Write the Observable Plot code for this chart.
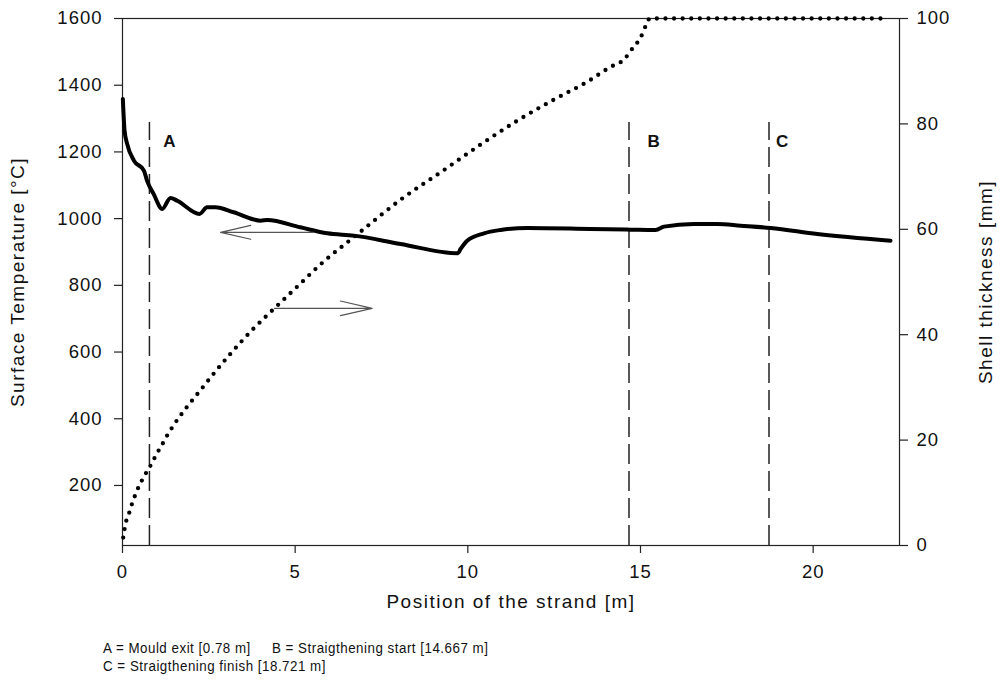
<!DOCTYPE html>
<html>
<head>
<meta charset="utf-8">
<script src="https://cdn.jsdelivr.net/npm/d3@7"></script>
<script src="https://cdn.jsdelivr.net/npm/@observablehq/plot@0.6"></script>
<style>
  body { margin: 0; background: #fff; font-family: "Liberation Sans", Arial, Helvetica, sans-serif; }
  #chart svg { display: block; }
  #chart svg text { letter-spacing: 1px; }
  #caption { position: relative; padding: 9px 0 0 103px; font-size: 15.5px; line-height: 18px; color: #111; letter-spacing: 0.6px; white-space: pre; }
  #caption div { transform: scaleX(0.86); transform-origin: 0 0; }
</style>
</head>
<body>
<div id="chart"></div>
<div id="caption"></div>
<script>
// Surface temperature [°C] vs position [m]
const posT = [0.01,0.06,0.135,0.33,0.62,0.71,0.90,1.15,1.39,1.58,2.23,2.45,2.69,3.22,4.0,4.19,5.15,5.93,6.7,8.05,9.71,9.79,9.98,10.47,10.95,11.72,13.55,14.71,15.44,15.68,16.54,17.22,17.9,18.77,20.12,22.24];
const temp = [1359,1264,1224,1174,1144,1114,1074,1029,1062,1054,1014,1034,1034,1019,994,996,974,956,949,924,896,909,934,956,966,972,969,967,966,976,984,984,979,972,954,934];

// Shell thickness [mm] vs position [m]
const posS = [0.02,0.06,0.11,0.2,0.28,0.37,0.48,0.6,0.72,0.86,0.98,1.12,1.25,1.39,2.31,3.13,3.80,4.16,5.01,5.83,6.58,6.94,8.05,9.21,10.42,11.43,12.49,13.46,14.13,14.52,14.8,14.97,15.07,15.17,15.27,22.14];
const shell = [1.5,3.1,4.7,6.3,8.0,9.6,11.3,12.8,14.2,15.7,17.3,18.8,20.4,21.9,29.9,36.4,41.2,43.5,48.8,53.9,57.9,59.8,65.6,70.8,76.3,80.6,84.6,88,90.8,92.2,94.6,96,97.3,98.9,100,100];

// Markers
const markerNames = ["A", "B", "C"];
const markerPos = [0.78, 14.667, 18.721];
const markerText = ["Mould exit", "Straigthening start", "Straigthening finish"];
const markerLabelPos = [1.36, 15.38, 19.1];

// Ticks
const xTicks = [0, 5, 10, 15, 20];
const tempTicks = [200, 400, 600, 800, 1000, 1200, 1400, 1600];
const shellTicks = [0, 20, 40, 60, 80, 100];

// Axis titles
const xTitle = "Position of the strand [m]";
const yLeftTitle = "Surface Temperature [°C]";
const yRightTitle = "Shell thickness [mm]";

// Arrows (pointing to the axis each curve belongs to)
const arrowFrom = [[5.53, 959], [4.40, 45]];
const arrowTo = [[2.84, 959], [7.23, 45]];
const arrowAxis = ["left", "right"];

const tempDomain = [20, 1600];
const shellDomain = [0, 100];
const toT = s => tempDomain[0] + (s - shellDomain[0]) * (tempDomain[1] - tempDomain[0]) / (shellDomain[1] - shellDomain[0]);

const tempData = posT.map((x, i) => ({x, y: temp[i]}));
const shellData = posS.map((x, i) => ({x, y: toT(shell[i])}));
const markers = markerPos.map((x, i) => ({x, lx: markerLabelPos[i], name: markerNames[i]}));
const arrows = arrowFrom.map((f, i) => {
  const conv = arrowAxis[i] === "right" ? toT : (v => v);
  return {x1: f[0], y1: conv(f[1]), x2: arrowTo[i][0], y2: conv(arrowTo[i][1])};
});

const font = "'Liberation Sans', Arial, Helvetica, sans-serif";
const tickFs = 18.5;

const chart = Plot.plot({
  width: 1002,
  height: 630,
  marginLeft: 122,
  marginRight: 103,
  marginTop: 18,
  marginBottom: 85,
  style: {fontFamily: font, color: "#111", background: "#fff"},
  x: {domain: [0, 22.5]},
  y: {domain: tempDomain},
  marks: [
    Plot.frame({stroke: "#222", strokeWidth: 1.2}),
    Plot.axisX({ticks: xTicks, tickFormat: d => String(d), tickSize: 8, tickPadding: 11, fontSize: tickFs, label: null, stroke: "#222", strokeWidth: 1.2}),
    Plot.axisY({ticks: tempTicks, tickFormat: d => String(d), anchor: "left", tickSize: 8, tickPadding: 12, fontSize: tickFs, label: null, stroke: "#222", strokeWidth: 1.2}),
    Plot.axisY({anchor: "right", ticks: shellTicks.map(toT), tickFormat: (d, i) => String(shellTicks[i]), tickSize: 8, tickPadding: 9, fontSize: tickFs, label: null, stroke: "#222", strokeWidth: 1.2}),
    Plot.text([xTitle], {frameAnchor: "bottom", textAnchor: "middle", dy: 62, fontSize: 19, fill: "#111"}),
    Plot.text([yLeftTitle], {frameAnchor: "left", textAnchor: "middle", dx: -105, rotate: -90, fontSize: 19, fill: "#111"}),
    Plot.text([yRightTitle], {frameAnchor: "right", textAnchor: "middle", dx: 86, rotate: -90, fontSize: 19, fill: "#111"}),
    Plot.ruleX(markers, {x: "x", y1: 20, y2: 1288, stroke: "#222", strokeWidth: 1.5, strokeDasharray: "20,7"}),
    Plot.text(markers, {x: "lx", y: 1232, text: "name", fontSize: 17, fontWeight: "bold", fill: "#111"}),
    Plot.line(shellData, {x: "x", y: "y", curve: "monotone-x", stroke: "#000", strokeWidth: 4.3, strokeLinecap: "round", strokeDasharray: "0,8.6"}),
    Plot.line(tempData, {x: "x", y: "y", curve: "monotone-x", stroke: "#000", strokeWidth: 4, strokeLinejoin: "round", strokeLinecap: "round"}),
    Plot.arrow(arrows, {x1: "x1", y1: "y1", x2: "x2", y2: "y2", stroke: "#555", strokeWidth: 1.2, headLength: 41, headAngle: 26})
  ]
});
d3.select(chart).selectAll("text").each(function () {
  const t = this.textContent;
  if (t === xTitle || t === yLeftTitle || t === yRightTitle) this.style.letterSpacing = "1.5px";
  else if (markerNames.includes(t)) this.style.letterSpacing = "0px";
});
document.getElementById("chart").appendChild(chart);

const lines = [
  `${markerNames[0]} = ${markerText[0]} [${markerPos[0]} m]     ${markerNames[1]} = ${markerText[1]} [${markerPos[1]} m]`,
  `${markerNames[2]} = ${markerText[2]} [${markerPos[2]} m]`
];
const cap = document.getElementById("caption");
for (const l of lines) {
  const d = document.createElement("div");
  d.textContent = l;
  cap.appendChild(d);
}
</script>
</body>
</html>
